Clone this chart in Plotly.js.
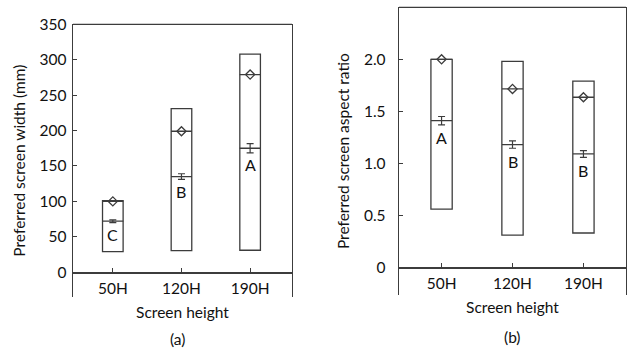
<!DOCTYPE html>
<html>
<head>
<meta charset="utf-8">
<script src="https://cdn.plot.ly/plotly-3.0.1.min.js"></script>
<style>html,body{margin:0;padding:0;background:#fff;}#chart{width:633px;height:352px;}</style>
</head>
<body>
<div id="chart"></div>
<script>
// ---- data ----
var categories = ["50H", "120H", "190H"];

// Panel (a): preferred screen width (mm)
var widthMax = [101, 231, 308];
var widthMin = [29, 30.5, 31];
var widthDiamond = [100, 199, 279];
var widthMean = [72, 135, 175];
var widthSE = [2, 4, 6.5];
var widthLetters = ["C", "B", "A"];

// Panel (b): preferred screen aspect ratio
var ratioMax = [2.0, 1.98, 1.79];
var ratioMin = [0.56, 0.31, 0.33];
var ratioDiamond = [2.0, 1.715, 1.635];
var ratioMean = [1.41, 1.18, 1.09];
var ratioSE = [0.04, 0.035, 0.033];
var ratioLetters = ["A", "B", "B"];

var widthTicks = [0, 50, 100, 150, 200, 250, 300, 350];
var ratioTickVals = [0, 0.5, 1.0, 1.5, 2.0];
var ratioTickText = ["0", "0.5", "1.0", "1.5", "2.0"];

// ---- styles ----
var LC = "#3c3c3c";
var FONT = "Lato, 'Open Sans', sans-serif";
var TXT = "#111";
var LINESYM = 15; // line-ew marker: drawn length = 1.4 * size

function panelTraces(mx, mn, dia, mean, se, xa, ya) {
  var spans = mx.map(function (v, i) { return v - mn[i]; });
  return [
    {type: "bar", x: categories, y: spans, base: mn, width: 0.3, xaxis: xa, yaxis: ya,
     marker: {color: "rgba(255,255,255,0)", line: {color: LC, width: 1.3}}, hoverinfo: "skip"},
    {type: "scatter", mode: "markers", x: categories, y: dia, xaxis: xa, yaxis: ya,
     marker: {symbol: "line-ew", size: LINESYM, line: {color: LC, width: 1.3}}},
    {type: "scatter", mode: "markers", x: categories, y: dia, xaxis: xa, yaxis: ya,
     marker: {symbol: "diamond-open", size: 7, color: LC, line: {color: LC, width: 1.3}}},
    {type: "scatter", mode: "markers", x: categories, y: mean, xaxis: xa, yaxis: ya,
     marker: {symbol: "line-ew", size: LINESYM, line: {color: LC, width: 1.3}},
     error_y: {type: "data", array: se, visible: true, color: LC, thickness: 1.2, width: 3.5}}
  ];
}

var data = panelTraces(widthMax, widthMin, widthDiamond, widthMean, widthSE, "x", "y")
  .concat(panelTraces(ratioMax, ratioMin, ratioDiamond, ratioMean, ratioSE, "x2", "y2"));

var annotations = [];
categories.forEach(function (c, i) {
  annotations.push({xref: "x", yref: "y", x: c, y: widthMean[i] - widthSE[i], text: widthLetters[i],
    showarrow: false, yanchor: "middle", yshift: -12, font: {family: FONT, size: 16, color: TXT}});
  annotations.push({xref: "x2", yref: "y2", x: c, y: ratioMean[i] - ratioSE[i], text: ratioLetters[i],
    showarrow: false, yanchor: "middle", yshift: -13, font: {family: FONT, size: 16, color: TXT}});
});
annotations.push({xref: "paper", yref: "paper", x: 0.2812, y: 1 - 339 / 352, text: "(a)", showarrow: false,
  xanchor: "center", yanchor: "middle", font: {family: FONT, size: 15.5, color: TXT}});
annotations.push({xref: "paper", yref: "paper", x: 0.8104, y: 1 - 337 / 352, text: "(b)", showarrow: false,
  xanchor: "center", yanchor: "middle", font: {family: FONT, size: 15.5, color: TXT}});

function xAxis(domain, pos, range) {
  return {domain: domain, anchor: "free", position: pos, type: "category", range: range,
    showline: true, linecolor: LC, linewidth: 1.3, ticks: "inside", ticklen: 4, tickcolor: LC,
    showgrid: false, zeroline: false, tickfont: {family: FONT, size: 15.5, color: TXT},
    ticklabelstandoff: 2,
    title: {text: "Screen height", standoff: 11, font: {family: FONT, size: 15.5, color: TXT}}};
}

var layout = {
  width: 633, height: 352,
  margin: {l: 0, r: 0, t: 0, b: 0},
  paper_bgcolor: "#fff", plot_bgcolor: "#fff",
  showlegend: false, bargap: 0,
  xaxis: xAxis([73 / 633, 292 / 633], 1 - 272.3 / 352, [-0.58, 2.61]),
  xaxis2: xAxis([399 / 633, 626 / 633], 1 - 267.3 / 352, [-0.6, 2.6]),
  yaxis: {domain: [1 - 297 / 352, 1 - 24.3 / 352], anchor: "x", range: [-35, 350],
    tickvals: widthTicks, ticks: "inside", ticklen: 4, tickcolor: LC,
    showline: true, mirror: true, linecolor: LC, linewidth: 1.3, showgrid: false, zeroline: false,
    tickfont: {family: FONT, size: 15.5, color: TXT}, ticklabelstandoff: 2,
    title: {text: "Preferred screen width (mm)", standoff: 10, font: {family: FONT, size: 15.5, color: TXT}}},
  yaxis2: {domain: [1 - 295 / 352, 1 - 7.3 / 352], anchor: "x2", range: [-0.266, 2.5],
    tickvals: ratioTickVals, ticktext: ratioTickText, ticks: "inside", ticklen: 4, tickcolor: LC,
    showline: true, mirror: true, linecolor: LC, linewidth: 1.3, showgrid: false, zeroline: false,
    tickfont: {family: FONT, size: 15.5, color: TXT}, ticklabelstandoff: 9,
    title: {text: "Preferred screen aspect ratio", standoff: 10, font: {family: FONT, size: 15.5, color: TXT}}},
  shapes: [
    {type: "line", xref: "x domain", yref: "y domain", x0: 0, x1: 1, y0: 1, y1: 1, line: {color: LC, width: 1.3}},
    {type: "line", xref: "x2 domain", yref: "y2 domain", x0: 0, x1: 1, y0: 1, y1: 1, line: {color: LC, width: 1.3}}
  ],
  annotations: annotations
};

Plotly.newPlot("chart", data, layout, {staticPlot: true, displayModeBar: false});
</script>
</body>
</html>
